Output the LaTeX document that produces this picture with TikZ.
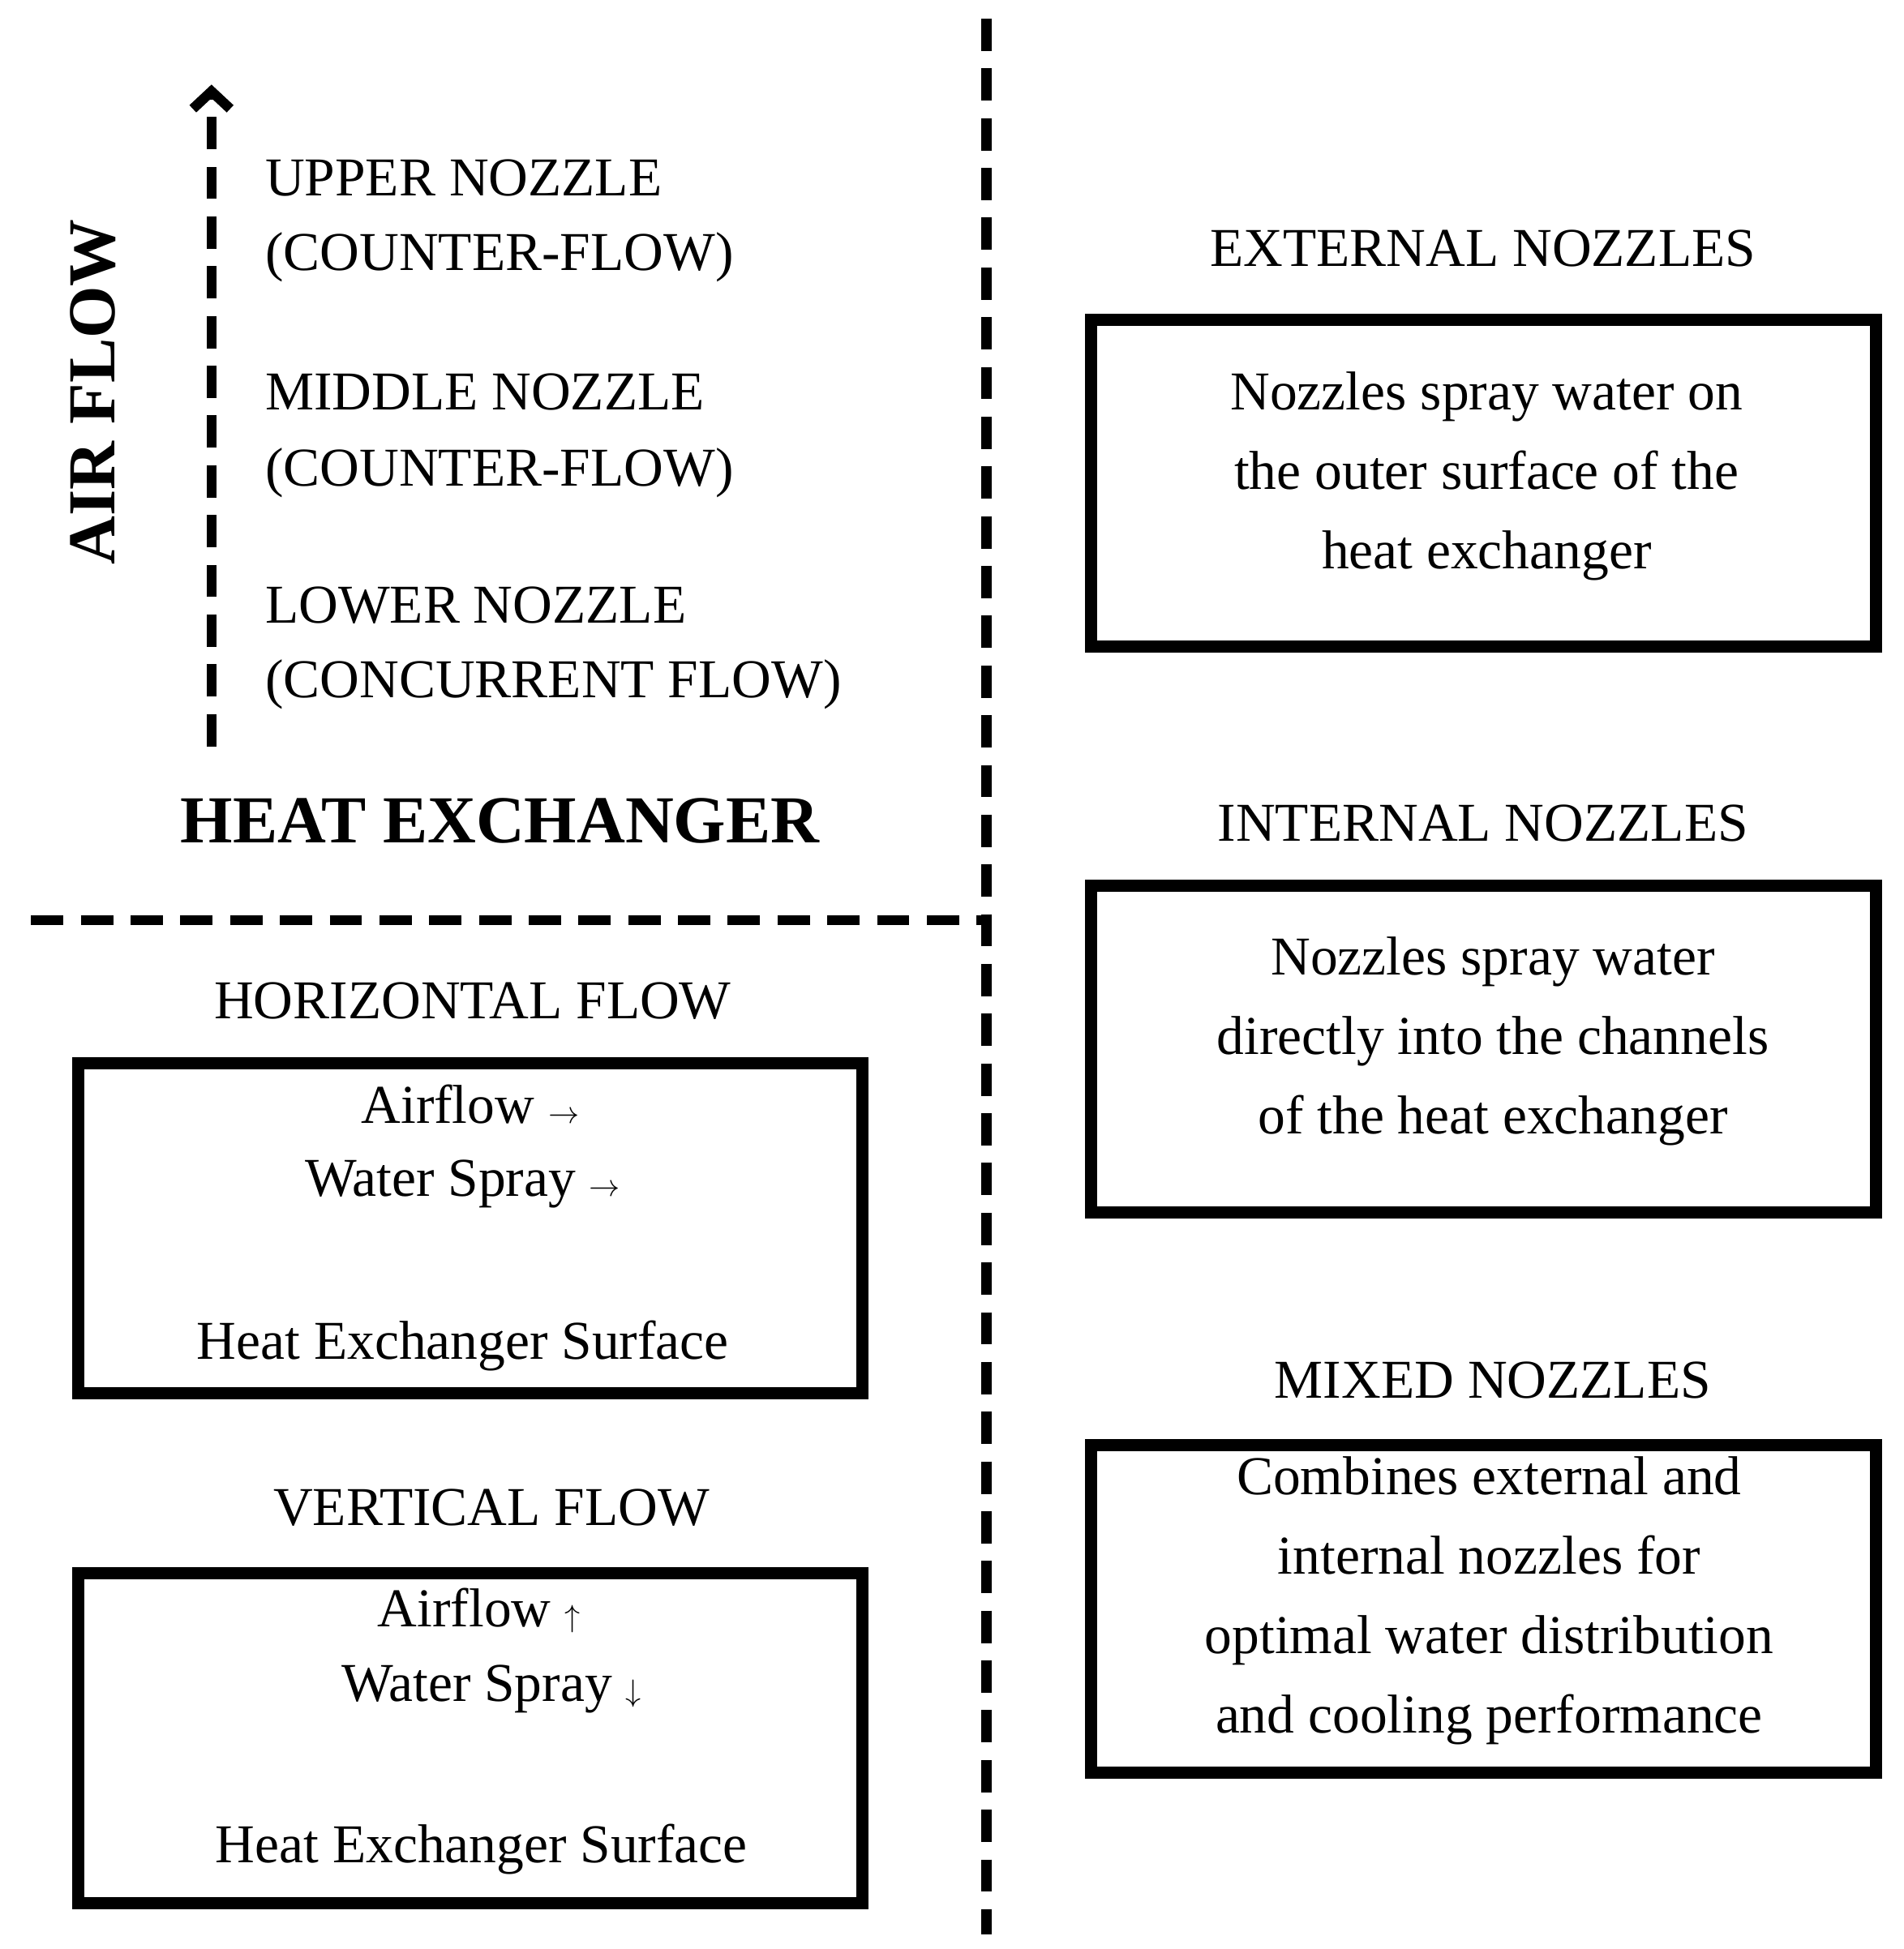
\documentclass[tikz,border=0pt]{standalone}
\usepackage{fontspec}
\setmainfont{Liberation Serif}
\usetikzlibrary{arrows.meta}
\begin{document}
\begin{tikzpicture}[x=1pt,y=-1pt,
  txt/.style={font=\fontsize{44}{64}\selectfont, inner sep=0pt},
  big/.style={font=\fontsize{54}{64}\selectfont\bfseries, inner sep=0pt},
  box/.style={draw, line width=10pt},
  dline/.style={line width=8pt, dash pattern=on 26pt off 14pt}]
\useasboundingbox (0,0) rectangle (1530,1567);
% dividers
\coordinate (vt) at (793,15); \coordinate (vb) at (793,1555);
\coordinate (hl) at (25,740); \coordinate (hr) at (793,740);
\draw[dline] (vt) -- (vb);
\draw[dline] (hl) -- (hr);
% air flow arrow
\coordinate (a0) at (170,600); \coordinate (a1) at (170,68);
\draw[dline, -{Straight Barb[length=14pt,width=30pt,line width=8pt]}] (a0) -- (a1);
\node[big, rotate=90] (air) at (75,315) {AIR FLOW};
\node[txt, anchor=west] (u1) at (213,143) {UPPER NOZZLE};
\node[txt, anchor=west] (u2) at (213,207) {(COUNTER-FLOW)};
\node[txt, anchor=west] (m1) at (213,315) {MIDDLE NOZZLE};
\node[txt, anchor=west] (m2) at (213,380) {(COUNTER-FLOW)};
\node[txt, anchor=west] (l1) at (213,487) {LOWER NOZZLE};
\node[txt, anchor=west] (l2) at (213,550) {(CONCURRENT FLOW)};
\node[big, anchor=west] (hx) at (145,660) {HEAT EXCHANGER};
% right side
\node[txt] (ext) at (1192,200) {EXTERNAL NOZZLES};
\draw[box] (877,257) rectangle (1508,520);
\node[txt, align=center] (extt) at (1195,383) {Nozzles spray water on\\the outer surface of the\\heat exchanger};
\node[txt] (int) at (1192,662) {INTERNAL NOZZLES};
\draw[box] (877,712) rectangle (1508,975);
\node[txt, align=center] (intt) at (1200,837) {Nozzles spray water\\directly into the channels\\of the heat exchanger};
\node[txt] (mix) at (1200,1110) {MIXED NOZZLES};
\draw[box] (877,1162) rectangle (1508,1425);
\node[txt, align=center] (mixt) at (1197,1287) {Combines external and\\internal nozzles for\\optimal water distribution\\and cooling performance};
% left lower
\node[txt] (hf) at (380,805) {HORIZONTAL FLOW};
\draw[box] (63,855) rectangle (693,1120);
\node[txt] (h1) at (378,888) {Airflow $\rightarrow$};
\node[txt] (h2) at (372,952) {Water Spray $\rightarrow$};
\node[txt] (h3) at (372,1082) {Heat Exchanger Surface};
\node[txt] (vf) at (395,1212) {VERTICAL FLOW};
\draw[box] (63,1265) rectangle (693,1530);
\node[txt] (v1) at (385,1295) {Airflow $\uparrow$};
\node[txt] (v2) at (395,1358) {Water Spray $\downarrow$};
\node[txt] (v3) at (387,1487) {Heat Exchanger Surface};
\end{tikzpicture}
\end{document}
